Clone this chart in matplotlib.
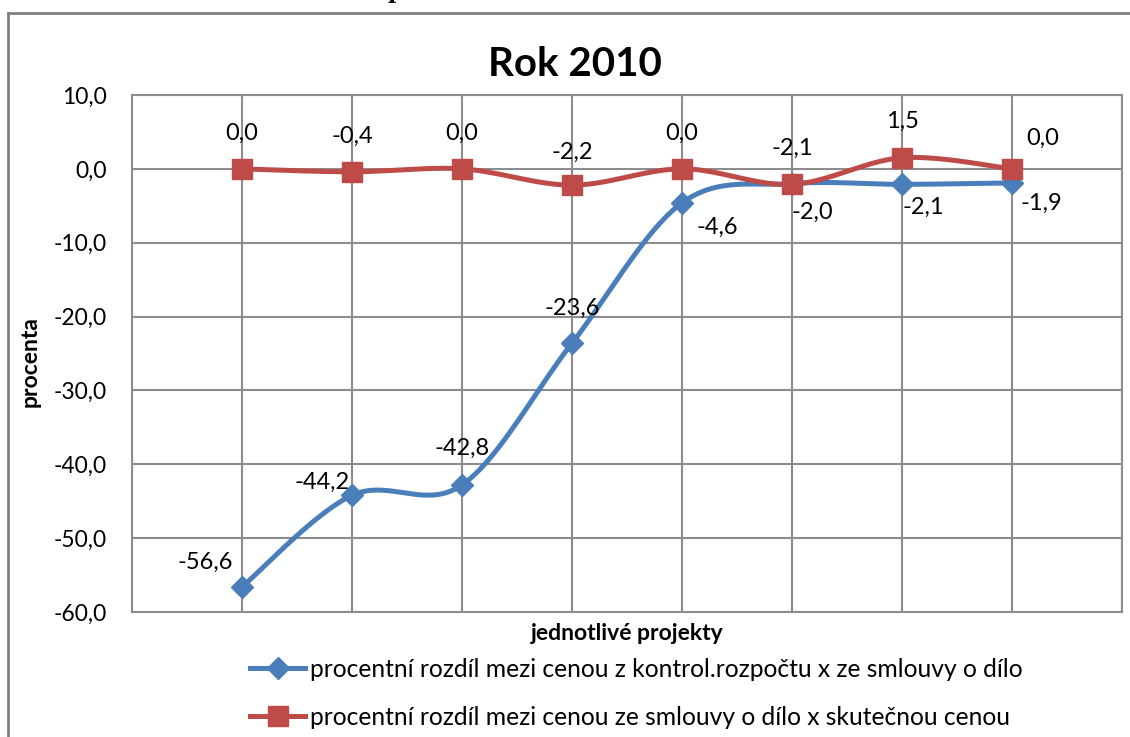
import numpy as np
import matplotlib.pyplot as plt
from matplotlib.patches import Rectangle

# data
projects = [1, 2, 3, 4, 5, 6, 7, 8]
kontrol_vs_smlouva = [-56.6, -44.2, -42.8, -23.6, -4.6, -2.0, -2.1, -1.9]
smlouva_vs_skutecnost = [0.0, -0.4, 0.0, -2.2, 0.0, -2.1, 1.5, 0.0]
label_1 = 'procentní rozdíl mezi cenou z kontrol.rozpočtu x ze smlouvy o dílo'
label_2 = 'procentní rozdíl mezi cenou ze smlouvy o dílo x skutečnou cenou'
yticks = [10, 0, -10, -20, -30, -40, -50, -60]

# label offsets in pixels (dx, dy up)
off_blue = [(-37, 25), (-30, 13), (0, 37), (0, 35), (35, -25), (20, -29), (21, -23), (29, -20)]
off_red = [(0, 36), (0, 35), (0, 36), (0, 33), (0, 36), (0, 36), (0, 36), (31, 31)]

plt.rcParams['font.family'] = ['Lato', 'DejaVu Sans']

BLUE = '#4a7ebb'
RED = '#be4b48'
GRID = '#8c8c8c'


# Excel-like smoothed line (Catmull-Rom as cubic bezier)
def smooth(x, y, n=40):
    x = np.asarray(x, float)
    y = np.asarray(y, float)
    px = np.concatenate([[x[0]], x, [x[-1]]])
    py = np.concatenate([[y[0]], y, [y[-1]]])
    xs, ys = [], []
    t = np.linspace(0, 1, n)
    for i in range(1, len(px) - 2):
        p0 = np.array([px[i], py[i]])
        p3 = np.array([px[i + 1], py[i + 1]])
        c1 = p0 + (p3 - np.array([px[i - 1], py[i - 1]])) / 6
        c2 = p3 - (np.array([px[i + 2], py[i + 2]]) - p0) / 6
        pts = ((1 - t) ** 3)[:, None] * p0 + (3 * (1 - t) ** 2 * t)[:, None] * c1 \
            + (3 * (1 - t) * t ** 2)[:, None] * c2 + (t ** 3)[:, None] * p3
        xs.extend(pts[:, 0])
        ys.extend(pts[:, 1])
    return xs, ys


def fmt(v):
    return ('%.1f' % v).replace('.', ',')


fig = plt.figure(figsize=(11.3, 7.37), dpi=100)
ax = fig.add_axes([132 / 1130, 1 - 612 / 737, 990 / 1130, 517 / 737])

# chart frame
fig.patches.append(Rectangle((8 / 1130, -0.1), 1.2, 1 - 13 / 737 + 0.1,
                             transform=fig.transFigure, fill=False,
                             edgecolor='#7f7f7f', linewidth=2))
# cut off caption above the chart (cut in the reference too)
fig.text(388 / 1130, 1 + 2 / 737, 'p', fontsize=16, fontweight='bold',
         family='DejaVu Serif', va='baseline')

sx, sy = smooth(projects, kontrol_vs_smlouva)
ax.plot(sx, sy, color=BLUE, linewidth=3.6, zorder=3)
ax.plot(projects, kontrol_vs_smlouva, linestyle='none', marker='D',
        markersize=11, color=BLUE, zorder=4)
sx, sy = smooth(projects, smlouva_vs_skutecnost)
ax.plot(sx, sy, color=RED, linewidth=3.6, zorder=3)
ax.plot(projects, smlouva_vs_skutecnost, linestyle='none', marker='s',
        markersize=14, color=RED, zorder=4)

for x, v, o in zip(projects, kontrol_vs_smlouva, off_blue):
    ax.annotate(fmt(v), (x, v), xytext=(o[0] * 0.72, o[1] * 0.72),
                textcoords='offset points', ha='center', va='center', fontsize=17)
for x, v, o in zip(projects, smlouva_vs_skutecnost, off_red):
    ax.annotate(fmt(v), (x, v), xytext=(o[0] * 0.72, o[1] * 0.72),
                textcoords='offset points', ha='center', va='center', fontsize=17)

ax.set_xlim(0, 9)
ax.set_ylim(-60, 10)
ax.set_xticks(range(10))
ax.set_xticklabels([])
ax.set_yticks(yticks)
ax.set_yticklabels([fmt(v) for v in yticks], fontsize=16.5)
ax.tick_params(length=0, pad=18)
ax.grid(True, color=GRID, linewidth=1.5)
for s in ax.spines.values():
    s.set_color(GRID)
    s.set_linewidth(1.5)

fig.text(575 / 1130, 1 - 65 / 737, 'Rok 2010', fontsize=29, fontweight='bold',
         ha='center', va='center')
fig.text(30 / 1130, 1 - 362 / 737, 'procenta', fontsize=16.5, fontweight='bold',
         rotation=90, ha='center', va='center')
fig.text(627 / 1130, 1 - 633 / 737, 'jednotlivé projekty', fontsize=16.5,
         fontweight='bold', ha='center', va='center')

h1, = ax.plot([], [], color=BLUE, linewidth=3.6, marker='D', markersize=11)
h2, = ax.plot([], [], color=RED, linewidth=3.6, marker='s', markersize=14)
fig.legend([h1, h2], [label_1, label_2], loc='upper left',
           bbox_to_anchor=(250 / 1130, 1 - 658 / 737), frameon=False,
           fontsize=17.7, handlelength=2.25, handletextpad=0.2, labelspacing=1.0,
           borderpad=0, borderaxespad=0)

fig.savefig('out.png', dpi=100)
